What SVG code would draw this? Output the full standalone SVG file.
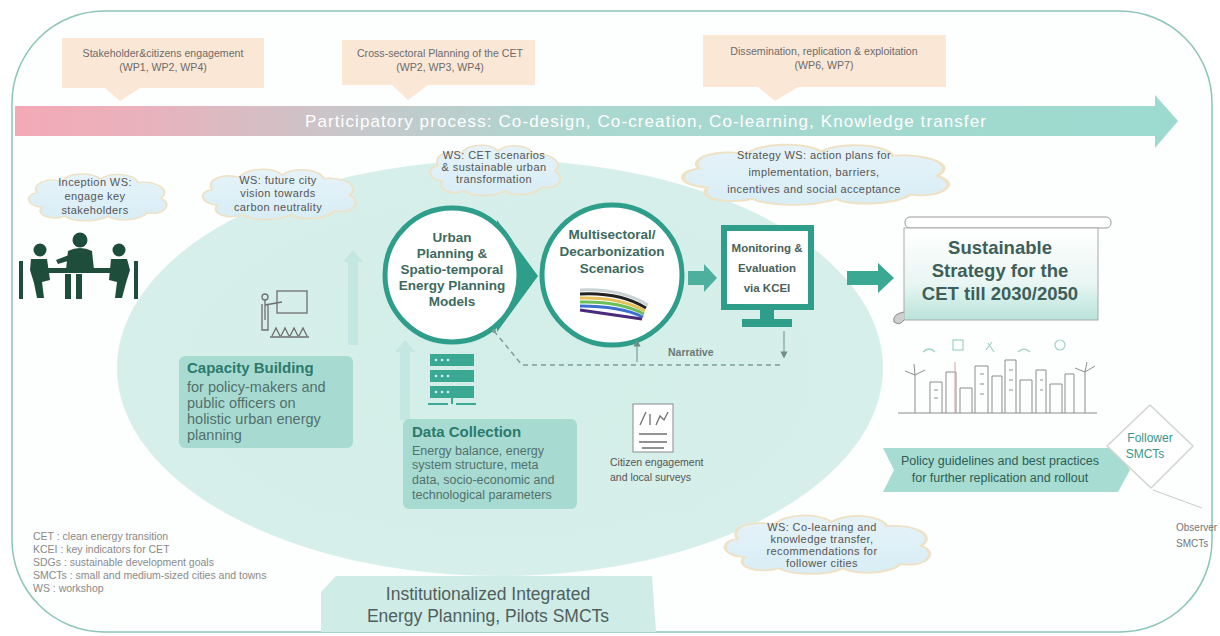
<svg xmlns="http://www.w3.org/2000/svg" xmlns:xlink="http://www.w3.org/1999/xlink" width="1220" height="636" viewBox="0 0 1220 636">
  <defs>
    <style>
      text { font-family: "Liberation Sans", Arial, sans-serif; }
      .callout { fill: #fbe7d6; }
      .callout-t { font-size: 10.6px; fill: #6b6b6b; text-anchor: middle; }
      .cloud-t { font-size: 11px; fill: #555; text-anchor: middle; letter-spacing: 0.4px; }
      .ring { fill: #ffffff; stroke: #2e9e8a; stroke-width: 5; }
      .ring-t { font-size: 13.5px; font-weight: bold; fill: #3d6a61; text-anchor: middle; }
      .teal { fill: #3aa893; }
      .box { fill: #a7dbd2; }
      .box-h { font-size: 15px; font-weight: bold; fill: #2b7a6b; }
      .box-t { font-size: 14.5px; fill: #52706b; }
      .box-s { font-size: 12.5px; fill: #52706b; }
      .legend { font-size: 10.5px; fill: #8a8a8a; }
      .icon { fill: none; stroke: #6f6f6f; stroke-width: 1.3; }
      .city { fill: none; stroke: #8c8c8c; stroke-width: 1; }
      .lift { fill: #c4e8e1; }
    </style>
    <linearGradient id="band" x1="0" y1="0" x2="1" y2="0">
      <stop offset="0" stop-color="#f3a9b6"/>
      <stop offset="0.12" stop-color="#e8b3bd"/>
      <stop offset="0.3" stop-color="#c5c8cb"/>
      <stop offset="0.5" stop-color="#a9d8cf"/>
      <stop offset="1" stop-color="#9cdacf"/>
    </linearGradient>
    <linearGradient id="cloudFill" x1="0" y1="0" x2="0" y2="1">
      <stop offset="0" stop-color="#e6f3f9"/>
      <stop offset="1" stop-color="#d8edf5"/>
    </linearGradient>
    <linearGradient id="stratFill" x1="0" y1="0" x2="0" y2="1">
      <stop offset="0" stop-color="#ffffff"/>
      <stop offset="0.6" stop-color="#e9f6f3"/>
      <stop offset="1" stop-color="#b9e3da"/>
    </linearGradient>
    <radialGradient id="field" cx="0.5" cy="0.5" r="0.5">
      <stop offset="0" stop-color="#d3eee8"/>
      <stop offset="1" stop-color="#d7efea"/>
    </radialGradient>
    <symbol id="cloud" viewBox="0 0 200 100" preserveAspectRatio="none">
      <path d="M28,70 C8,68 6,48 22,44 C15,28 35,16 54,24 C62,8 92,6 104,20 C118,6 148,10 152,26 C174,22 196,38 182,54 C198,64 186,86 164,80 C154,95 124,96 114,86 C98,98 68,96 58,86 C42,94 20,86 28,70 Z" fill="url(#cloudFill)" stroke="#efe1c4" stroke-width="2.5"/>
    </symbol>
    <marker id="tipUp" viewBox="0 0 10 10" refX="5" refY="5" markerWidth="6" markerHeight="6" orient="auto">
      <path d="M0,0 L10,5 L0,10 Z" fill="#6e8f89"/>
    </marker>
  </defs>

  <!-- page background and frame -->
  <rect x="0" y="0" width="1220" height="636" fill="#ffffff"/>
  <rect x="12" y="11" width="1200" height="621" rx="92" ry="92" fill="#fdfefe" stroke="#8cc5b9" stroke-width="1.5"/>

  <!-- central planning field -->
  <ellipse id="field-bg" cx="500" cy="368" rx="383" ry="208" fill="url(#field)"/>

  <!-- work package callouts -->
  <g id="wp-engagement">
    <rect class="callout" x="62" y="38" width="202" height="50"/>
    <polygon class="callout" points="105,88 140,88 120,101"/>
    <text class="callout-t" x="163" y="57">Stakeholder&amp;citizens engagement</text>
    <text class="callout-t" x="163" y="71">(WP1, WP2, WP4)</text>
  </g>
  <g id="wp-planning">
    <rect class="callout" x="342" y="40" width="193" height="45"/>
    <polygon class="callout" points="392,85 428,85 408,100"/>
    <text class="callout-t" x="440" y="57">Cross-sectoral  Planning of the CET</text>
    <text class="callout-t" x="440" y="71">(WP2, WP3, WP4)</text>
  </g>
  <g id="wp-dissemination">
    <rect class="callout" x="703" y="35" width="243" height="52"/>
    <polygon class="callout" points="758,87 798,87 775,101"/>
    <text class="callout-t" x="824" y="55" font-size="11.5">Dissemination, replication &amp; exploitation</text>
    <text class="callout-t" x="824" y="69" font-size="11.5">(WP6, WP7)</text>
  </g>

  <!-- participatory process band -->
  <g id="process-band">
    <polygon points="15,106 1155,106 1155,95 1178,121 1155,148 1155,136 15,136" fill="url(#band)"/>
    <text x="646" y="127" font-size="17" fill="#ffffff" text-anchor="middle" letter-spacing="1.1">Participatory process: Co-design, Co-creation, Co-learning, Knowledge transfer</text>
  </g>

  <!-- workshop clouds -->
  <g id="ws-inception">
    <use xlink:href="#cloud" x="20" y="168" width="155" height="56"/>
    <text class="cloud-t" x="95" y="186">Inception WS:</text>
    <text class="cloud-t" x="95" y="200">engage key</text>
    <text class="cloud-t" x="95" y="214">stakeholders</text>
  </g>
  <g id="ws-vision">
    <use xlink:href="#cloud" x="193" y="163" width="172" height="60"/>
    <text class="cloud-t" x="278" y="184" font-size="11.5">WS: future city</text>
    <text class="cloud-t" x="278" y="197" font-size="11.5">vision towards</text>
    <text class="cloud-t" x="278" y="211" font-size="11.5">carbon neutrality</text>
  </g>
  <g id="ws-scenarios">
    <use xlink:href="#cloud" x="422" y="139" width="146" height="60"/>
    <text class="cloud-t" x="494" y="159" font-size="10" letter-spacing="0.3">WS: CET scenarios</text>
    <text class="cloud-t" x="494" y="171" font-size="10" letter-spacing="0.3">&amp; sustainable urban</text>
    <text class="cloud-t" x="494" y="183" font-size="10" letter-spacing="0.3">transformation</text>
  </g>
  <g id="ws-strategy">
    <use xlink:href="#cloud" x="666" y="137" width="298" height="72"/>
    <text class="cloud-t" x="814" y="159" font-size="12" letter-spacing="0.3">Strategy WS: action plans for</text>
    <text class="cloud-t" x="814" y="176" font-size="12" letter-spacing="0.3">implementation, barriers,</text>
    <text class="cloud-t" x="814" y="193" font-size="12" letter-spacing="0.3">incentives and social acceptance</text>
  </g>
  <g id="ws-colearning">
    <use xlink:href="#cloud" x="712" y="508" width="230" height="70"/>
    <text class="cloud-t" x="822" y="531">WS: Co-learning and</text>
    <text class="cloud-t" x="822" y="543">knowledge transfer,</text>
    <text class="cloud-t" x="822" y="555">recommendations for</text>
    <text class="cloud-t" x="822" y="567">follower cities</text>
  </g>

  <!-- stakeholder meeting pictogram -->
  <g id="meeting" fill="#1e4d3c">
    <circle cx="80" cy="240" r="7.5"/>
    <path d="M68,251 Q80,245 92,251 L94,270 L66,270 Z"/>
    <path d="M56,260 L69,255 L71,260 L58,264 Z"/>
    <circle cx="40" cy="250" r="6.5"/>
    <path d="M31,259 L47,259 L50,280 L42,282 L44,298 L37,298 L34,283 L30,270 Z"/>
    <circle cx="119" cy="250" r="6.5"/>
    <path d="M111,259 L127,259 L130,270 L126,283 L122,298 L115,298 L117,282 L109,280 Z"/>
    <rect x="44" y="268" width="71" height="5"/>
    <rect x="65" y="274" width="6" height="25"/>
    <rect x="76" y="274" width="6" height="25"/>
    <rect x="19" y="261" width="4" height="38"/>
    <rect x="134" y="261" width="4" height="38"/>
  </g>

  <!-- up-flow arrows inside the field -->
  <g id="lift-arrows">
    <polygon class="lift" points="348,345 358,345 358,262 363,262 353,250 343,262 348,262"/>
    <polygon class="lift" points="400,420 410,420 410,352 415,352 405,340 395,352 400,352"/>
  </g>

  <!-- teaching pictogram -->
  <g id="teacher" class="icon">
    <rect x="277" y="291" width="30" height="22"/>
    <circle cx="265" cy="297" r="3"/>
    <path d="M265,300 L265,320 M262,304 L262,330 L268,330 L268,304 M265,305 L282,302"/>
    <path d="M272,336 L276,328 L280,336 M281,336 L285,328 L289,336 M290,336 L294,328 L298,336 M299,336 L303,328 L307,336 M270,337 L309,337"/>
  </g>

  <!-- capacity building -->
  <g id="capacity">
    <rect class="box" x="179" y="356" width="174" height="92" rx="6"/>
    <text class="box-h" x="187" y="373">Capacity Building</text>
    <text class="box-t" x="187" y="392">for policy-makers and</text>
    <text class="box-t" x="187" y="408">public officers on</text>
    <text class="box-t" x="187" y="424">holistic urban energy</text>
    <text class="box-t" x="187" y="440">planning</text>
  </g>

  <!-- data server pictogram -->
  <g id="server">
    <rect class="teal" x="430" y="354" width="44" height="12"/>
    <rect class="teal" x="430" y="370" width="44" height="12"/>
    <rect class="teal" x="430" y="386" width="44" height="12"/>
    <g fill="#d6f1ec">
      <circle cx="436" cy="360" r="1.3"/><circle cx="442" cy="360" r="1.3"/><circle cx="448" cy="360" r="1.3"/>
      <circle cx="436" cy="376" r="1.3"/><circle cx="442" cy="376" r="1.3"/><circle cx="448" cy="376" r="1.3"/>
      <circle cx="436" cy="392" r="1.3"/><circle cx="442" cy="392" r="1.3"/><circle cx="448" cy="392" r="1.3"/>
    </g>
    <path d="M452,398 L452,404 M428,404 L448,404 M456,404 L476,404" stroke="#3aa893" stroke-width="2"/>
  </g>

  <!-- data collection -->
  <g id="data-collection">
    <rect class="box" x="403" y="419" width="174" height="90" rx="6"/>
    <text class="box-h" x="412" y="437">Data Collection</text>
    <text class="box-s" x="412" y="455">Energy balance, energy</text>
    <text class="box-s" x="412" y="469">system structure, meta</text>
    <text class="box-s" x="412" y="484">data, socio-economic and</text>
    <text class="box-s" x="412" y="499">technological parameters</text>
  </g>

  <!-- citizen engagement -->
  <g id="citizens">
    <rect x="633" y="404" width="40" height="48" fill="#ffffff" stroke="#8a8a8a" stroke-width="1"/>
    <path class="icon" d="M640,425 L646,412 M650,425 L650,414 M656,425 L660,416 L664,420 L668,412"/>
    <path class="icon" d="M639,434 L667,434 M639,442 L667,442 M642,448 L664,448"/>
    <text x="610" y="466" font-size="10.5" fill="#555">Citizen engagement</text>
    <text x="610" y="481" font-size="10.5" fill="#555">and local surveys</text>
  </g>

  <!-- planning model node -->
  <g id="planning-models">
    <polygon points="497,220 538,276 497,332" fill="#2e9e8a"/>
    <circle class="ring" cx="452" cy="275" r="67"/>
    <text class="ring-t" x="452" y="242">Urban</text>
    <text class="ring-t" x="452" y="258">Planning &amp;</text>
    <text class="ring-t" x="452" y="274">Spatio-temporal</text>
    <text class="ring-t" x="452" y="290">Energy Planning</text>
    <text class="ring-t" x="452" y="306">Models</text>
  </g>

  <!-- scenario node -->
  <g id="scenarios">
    <circle class="ring" cx="612" cy="275" r="70" stroke-width="4"/>
    <text class="ring-t" x="612" y="239" font-size="14.5">Multisectoral/</text>
    <text class="ring-t" x="612" y="256" font-size="14.5">Decarbonization</text>
    <text class="ring-t" x="612" y="273" font-size="14.5">Scenarios</text>
    <g stroke-width="3" fill="none">
      <path d="M580,290 Q620,288 648,305" stroke="#c9d3d6"/>
      <path d="M580,294 Q620,292 646,308" stroke="#222"/>
      <path d="M580,298 Q620,297 645,311" stroke="#e6c15a"/>
      <path d="M580,302 Q620,301 644,314" stroke="#6bbf59"/>
      <path d="M580,306 Q620,306 643,317" stroke="#3c6fd1"/>
      <path d="M580,310 L642,319" stroke="#4a2a7a"/>
    </g>
  </g>

  <!-- monitoring node -->
  <g id="monitoring">
    <rect x="724" y="228" width="87" height="79" fill="#ffffff" stroke="#2e9e8a" stroke-width="6"/>
    <rect x="760" y="310" width="14" height="10" fill="#2e9e8a"/>
    <rect x="742" y="319" width="50" height="8" fill="#2e9e8a"/>
    <text x="767" y="252" font-size="11.5" font-weight="bold" fill="#4a5f5b" text-anchor="middle">Monitoring &amp;</text>
    <text x="767" y="272" font-size="11.5" font-weight="bold" fill="#4a5f5b" text-anchor="middle">Evaluation</text>
    <text x="767" y="292" font-size="11.5" font-weight="bold" fill="#4a5f5b" text-anchor="middle">via KCEI</text>
  </g>

  <!-- strategy node -->
  <g id="strategy">
    <rect x="905" y="217" width="206" height="11" rx="5" fill="#ffffff" stroke="#9a9a9a" stroke-width="1"/>
    <rect x="904" y="228" width="194" height="92" fill="url(#stratFill)" stroke="#a9a9a9" stroke-width="1"/>
    <path d="M904,312 Q892,314 894,322 Q900,326 904,320" fill="#cfcfcf" stroke="#8a8a8a" stroke-width="1"/>
    <text x="1000" y="254" font-size="18.5" font-weight="bold" fill="#3e5e59" text-anchor="middle">Sustainable</text>
    <text x="1000" y="277" font-size="18.5" font-weight="bold" fill="#3e5e59" text-anchor="middle">Strategy for the</text>
    <text x="1000" y="300" font-size="18.5" font-weight="bold" fill="#3e5e59" text-anchor="middle">CET till 2030/2050</text>
  </g>

  <!-- sustainable city sketch -->
  <g id="city">
    <g fill="none" stroke="#9fd3c9" stroke-width="1.2">
      <path d="M923,352 Q929,346 935,352"/>
      <rect x="953" y="340" width="10" height="10"/>
      <path d="M988,343 L994,352 M992,342 L986,350"/>
      <path d="M1018,352 Q1024,346 1030,352"/>
      <circle cx="1060" cy="345" r="5"/>
    </g>
    <path class="city" d="M898,413 L1097,413"/>
    <path class="city" d="M915,413 L915,375 M915,375 L905,371 M915,375 L925,370 M915,375 L914,364"/>
    <path class="city" d="M1085,413 L1085,372 M1085,372 L1075,368 M1085,372 L1095,366 M1085,372 L1087,362"/>
    <path class="city" d="M930,413 L930,382 L942,382 L942,413 M946,413 L946,372 L956,372 L956,413 M960,413 L960,388 L972,388 L972,413 M975,413 L975,366 L988,366 L988,413 M992,413 L992,376 L1002,376 L1002,413 M1005,413 L1005,360 L1016,360 L1016,413 M1020,413 L1020,380 L1032,380 L1032,413 M1036,413 L1036,370 L1046,370 L1046,413 M1050,413 L1050,384 L1062,384 L1062,413 M1065,413 L1065,374 L1074,374 L1074,413"/>
    <path d="M955,413 L955,362" stroke="#d9a0a0" stroke-width="1"/>
    <path class="city" d="M934,390 L938,390 M934,398 L938,398 M980,374 L984,374 M980,384 L984,384 M980,394 L984,394 M1009,370 L1013,370 M1009,380 L1013,380 M1009,390 L1013,390 M1040,380 L1043,380 M1040,390 L1043,390"/>
  </g>

  <!-- policy output -->
  <g id="policy">
    <polygon points="883,448 1118,448 1130,470 1118,492 883,492 894,470" fill="#a6dcd1"/>
    <text x="1000" y="465" font-size="12.5" fill="#2f5d56" text-anchor="middle">Policy guidelines and best practices</text>
    <text x="1000" y="482" font-size="12.5" fill="#2f5d56" text-anchor="middle">for further replication and rollout</text>
  </g>

  <!-- follower and observer cities -->
  <g id="followers">
    <polygon points="1150,405 1193,446 1151,488 1107,446" fill="#ffffff" stroke="#d3d3d3" stroke-width="1.5"/>
    <text x="1150" y="442" font-size="12" fill="#3a958a" text-anchor="middle">Follower</text>
    <text x="1145" y="458" font-size="12" fill="#3a958a" text-anchor="middle">SMCTs</text>
  </g>
  <g id="observers">
    <text x="1176" y="531" font-size="10" fill="#777">Observer</text>
    <text x="1176" y="547" font-size="10" fill="#777">SMCTs</text>
  </g>

  <!-- institutionalised planning -->
  <g id="institutional">
    <polygon points="336,576 652,576 656,632 321,632 321,592" fill="#cfece6"/>
    <text x="488" y="600" font-size="17.5" fill="#4f5f5c" text-anchor="middle">Institutionalized Integrated</text>
    <text x="488" y="622" font-size="17.5" fill="#4f5f5c" text-anchor="middle">Energy Planning, Pilots SMCTs</text>
  </g>

  <!-- abbreviations -->
  <g id="legend">
    <text class="legend" x="33" y="540">CET : clean energy transition</text>
    <text class="legend" x="33" y="553">KCEI : key indicators for CET</text>
    <text class="legend" x="33" y="566">SDGs : sustainable development goals</text>
    <text class="legend" x="33" y="579">SMCTs : small and medium-sized cities and towns</text>
    <text class="legend" x="33" y="592">WS : workshop</text>
  </g>

  <!-- connectors -->
  <g id="connectors">
    <polygon points="688,271 704,271 704,264 717,278 704,292 704,285 688,285" fill="#4db09e"/>
    <polygon points="847,271 878,271 878,263 894,278 878,293 878,285 847,285" fill="#3aa893"/>
    <path d="M494,331 L522,365 L784,365" fill="none" stroke="#7a9f98" stroke-width="1.5" stroke-dasharray="5,4"/>
    <circle cx="494" cy="331" r="2" fill="#7a9f98"/>
    <path d="M784,331 L784,355" fill="none" stroke="#7a9f98" stroke-width="1.2" marker-end="url(#tipUp)"/>
    <path d="M637,362 L637,343" fill="none" stroke="#7a9f98" stroke-width="1.2" marker-end="url(#tipUp)"/>
    <text x="668" y="356" font-size="10.5" font-weight="bold" fill="#6a7a77">Narrative</text>
    <path d="M1153,490 L1202,508" fill="none" stroke="#cfcfcf" stroke-width="1.2"/>
  </g>
</svg>
